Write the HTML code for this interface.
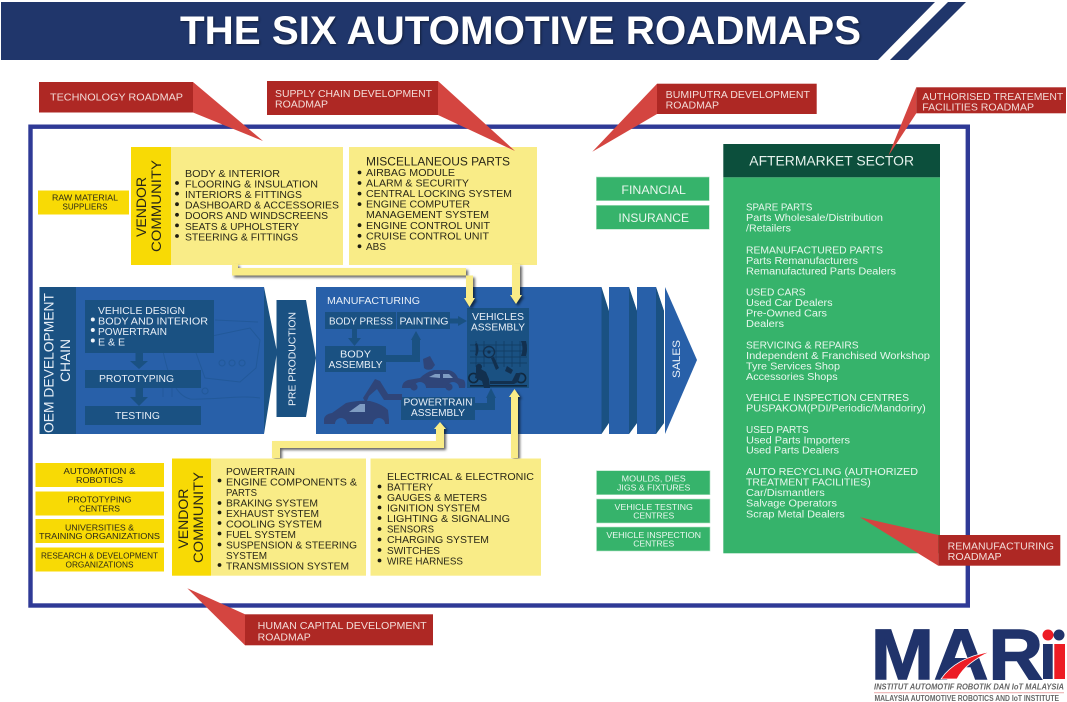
<!DOCTYPE html>
<html><head><meta charset="utf-8"><style>
html,body{margin:0;padding:0;background:#fff;width:1067px;height:702px;overflow:hidden}
svg{display:block;font-family:"Liberation Sans",sans-serif}
text{font-size:10px}
.w text,text.w{fill:#e8eff7}
.y text{fill:#2a2818}
.g text{fill:#e9f7ee}
.m text{text-anchor:middle;font-size:8.6px}
.r text{fill:#f3dcd8;font-size:10px}
.d{fill:#1a5182}
.b{fill:#2860a9}
.tail{fill:#d44540}
.tag{fill:#ae2824}
.gb{fill:#36b36b;stroke:#b4e3c5;stroke-width:.6}
.yb{fill:#f8da05}
.yl{fill:#f9ec87}
.c{text-anchor:middle}
</style></head><body>
<svg width="1067" height="702" viewBox="0 0 1067 702" xmlns="http://www.w3.org/2000/svg">
<!-- banner -->
<polygon points="1,2 935,2 878,60 1,60" fill="#20366b"/>
<polygon points="948,2 966,2 908,60 890,60" fill="#20366b"/>
<text x="180" y="44" textLength="681" lengthAdjust="spacingAndGlyphs" style="font-size:40px;font-weight:bold;fill:#fff;filter:drop-shadow(1px 1px 1px rgba(0,0,0,.45))">THE SIX AUTOMOTIVE ROADMAPS</text>

<!-- frame -->
<rect x="30.5" y="126.7" width="937.3" height="478.8" fill="none" stroke="#2f3a96" stroke-width="4.4"/>

<!-- top yellow -->
<rect x="131" y="147" width="40" height="118" class="yb"/>
<rect x="171" y="147" width="172" height="118" class="yl"/>
<rect x="349" y="147" width="188" height="118" class="yl"/>
<rect x="38" y="190.5" width="91" height="24" class="yb"/>
<g class="m y"><text x="85" y="200.7" textLength="66" lengthAdjust="spacingAndGlyphs">RAW MATERIAL</text><text x="85" y="209.7" textLength="45" lengthAdjust="spacingAndGlyphs">SUPPLIERS</text></g>
<g class="y">
<text transform="translate(146,237) rotate(-90)" textLength="60" lengthAdjust="spacingAndGlyphs" style="font-size:14px">VENDOR</text>
<text transform="translate(161,252) rotate(-90)" textLength="92" lengthAdjust="spacingAndGlyphs" style="font-size:14px">COMMUNITY</text>
<text x="185" y="177" textLength="95" lengthAdjust="spacingAndGlyphs">BODY &amp; INTERIOR</text>
<text x="185" y="187.6" textLength="133" lengthAdjust="spacingAndGlyphs">FLOORING &amp; INSULATION</text>
<text x="185" y="198.1" textLength="117" lengthAdjust="spacingAndGlyphs">INTERIORS &amp; FITTINGS</text>
<text x="185" y="208.7" textLength="154" lengthAdjust="spacingAndGlyphs">DASHBOARD &amp; ACCESSORIES</text>
<text x="185" y="219.2" textLength="143" lengthAdjust="spacingAndGlyphs">DOORS AND WINDSCREENS</text>
<text x="185" y="229.8" textLength="114" lengthAdjust="spacingAndGlyphs">SEATS &amp; UPHOLSTERY</text>
<text x="185" y="240.4" textLength="113" lengthAdjust="spacingAndGlyphs">STEERING &amp; FITTINGS</text>
<text x="366" y="165.5" textLength="144" lengthAdjust="spacingAndGlyphs" style="font-size:12px">MISCELLANEOUS PARTS</text>
<text x="366" y="176" textLength="89" lengthAdjust="spacingAndGlyphs">AIRBAG MODULE</text>
<text x="366" y="186.6" textLength="103" lengthAdjust="spacingAndGlyphs">ALARM &amp; SECURITY</text>
<text x="366" y="197.1" textLength="146" lengthAdjust="spacingAndGlyphs">CENTRAL LOCKING SYSTEM</text>
<text x="366" y="207.7" textLength="104" lengthAdjust="spacingAndGlyphs">ENGINE COMPUTER</text>
<text x="366" y="218.2" textLength="123" lengthAdjust="spacingAndGlyphs">MANAGEMENT SYSTEM</text>
<text x="366" y="228.8" textLength="124" lengthAdjust="spacingAndGlyphs">ENGINE CONTROL UNIT</text>
<text x="366" y="239.3" textLength="123" lengthAdjust="spacingAndGlyphs">CRUISE CONTROL UNIT</text>
<text x="366" y="249.9" textLength="20" lengthAdjust="spacingAndGlyphs">ABS</text>
</g>
<g fill="#1d1c10">
<circle cx="177" cy="183" r="1.9"/><circle cx="177" cy="193.6" r="1.9"/><circle cx="177" cy="204.2" r="1.9"/><circle cx="177" cy="214.8" r="1.9"/><circle cx="177" cy="225.4" r="1.9"/><circle cx="177" cy="236" r="1.9"/>
<circle cx="359.5" cy="172.5" r="1.9"/><circle cx="359.5" cy="183" r="1.9"/><circle cx="359.5" cy="193.6" r="1.9"/><circle cx="359.5" cy="204.1" r="1.9"/><circle cx="359.5" cy="225.2" r="1.9"/><circle cx="359.5" cy="235.8" r="1.9"/><circle cx="359.5" cy="246.3" r="1.9"/>
</g>

<!-- blue chain -->
<rect x="39.5" y="287" width="224.5" height="147" class="b"/>
<rect x="39.5" y="287" width="36.5" height="147" class="d"/>
<polygon points="264,287 277,352 264,434" class="d"/>
<g fill="none" stroke="#22599a" stroke-width="1">
<path d="M163,351 C168,375 175,395 190,399 C215,400 240,395 260,398"/>
<path d="M215,320 L258,322 M212,336 L250,328 L260,340 L256,368 L240,382 L205,378 L195,350"/>
<path d="M232,360 a3,3 0 1 0 .1,0 M242,360 a3,3 0 1 0 .1,0 M222,360 a3,3 0 1 0 .1,0"/>
<path d="M163,385 v12 M172,385 v12 M205,388 a3,3 0 1 0 .1,0"/>
</g>
<rect x="85" y="300" width="129" height="53" class="d"/>
<rect x="85" y="370" width="116" height="18" class="d"/>
<rect x="85" y="406" width="116" height="19" class="d"/>
<polygon points="135.5,353 143,353 143,361 148,361 139,369 130,361 135.5,361" class="d"/>
<polygon points="135.5,388 143,388 143,397 148,397 139,406 130,397 135.5,397" class="d"/>
<g class="w">
<text x="98" y="314" textLength="87" lengthAdjust="spacingAndGlyphs">VEHICLE DESIGN</text>
<text x="98" y="324.7" textLength="110" lengthAdjust="spacingAndGlyphs">BODY AND INTERIOR</text>
<text x="98" y="335" textLength="69" lengthAdjust="spacingAndGlyphs">POWERTRAIN</text>
<text x="98" y="345.6" textLength="27" lengthAdjust="spacingAndGlyphs">E &amp; E</text>
<text x="99" y="382" textLength="75" lengthAdjust="spacingAndGlyphs">PROTOTYPING</text>
<text x="115" y="419" textLength="45" lengthAdjust="spacingAndGlyphs">TESTING</text>
<text transform="translate(53.5,433) rotate(-90)" textLength="140" lengthAdjust="spacingAndGlyphs" style="font-size:14px">OEM DEVELOPMENT</text>
<text transform="translate(70,382) rotate(-90)" textLength="43" lengthAdjust="spacingAndGlyphs" style="font-size:14px">CHAIN</text>
</g>
<g fill="#f0f4f9"><circle cx="92.8" cy="319.5" r="2"/><circle cx="92.8" cy="330" r="2"/><circle cx="92.8" cy="340.5" r="2"/></g>

<polygon points="276.5,300 306,300 316,358 306,417 276.5,417" class="d"/>
<text transform="translate(295.5,406) rotate(-90)" textLength="94" lengthAdjust="spacingAndGlyphs" style="font-size:10.5px;fill:#e8eff7">PRE PRODUCTION</text>

<rect x="316" y="287" width="285.5" height="147" class="b"/>
<polygon points="601.5,287 609,311 609,423 601.5,434" class="d"/>
<polygon points="609,287 629,287 637,311 637,423 629,434 609,434" class="b"/>
<polygon points="629,287 637,311 637,423 629,434" class="d"/>
<polygon points="637,287 656,287 664,311 664,423 656,434 637,434" class="b"/>
<polygon points="656,287 664,311 664,423 656,434" class="d"/>
<polygon points="665,287 697,360 665,434" class="b"/>
<text transform="translate(680,378) rotate(-90)" textLength="38" lengthAdjust="spacingAndGlyphs" style="font-size:11px;fill:#e8eff7">SALES</text>

<rect x="325" y="312" width="71" height="17" class="d"/>
<rect x="397" y="312" width="53" height="17" class="d"/>
<rect x="325" y="346" width="61" height="26" class="d"/>
<polygon points="450,318.5 458,318.5 458,316 467,321 458,326 458,323.5 450,323.5" class="d"/>
<polygon points="352,329 357,329 357,338 361,338 354.5,346 348,338 352,338" class="d"/>
<polygon points="386,355 412,355 412,340 411,340 416,331 421,340 420,340 420,362 386,362" class="d"/>
<rect x="467" y="308" width="62" height="80" fill="#1a5182"/>
<rect x="401" y="397" width="74" height="23" class="d"/>
<polygon points="475,403 487,403 487,398 486,398 491,388 496,398 495,398 495,410 475,410" class="d"/>

<!-- vehicles assembly illustration -->
<g stroke="#123a5f" fill="none" stroke-width=".7">
<path d="M470,345 H527 M470,351 H527 M470,357 H527 M470,363 H527 M476,341 V367 M484,341 V367 M496,341 V367 M504,341 V367 M512,341 V367 M520,341 V367"/>
</g>
<g fill="#12304f">
<circle cx="489" cy="352" r="5.5" fill="none" stroke="#12304f" stroke-width="1.4"/><circle cx="489" cy="352" r="1.6"/>
<path d="M477,343 q3,6 0,13 l-2,-1 q2,-5 0,-11z"/>
<path d="M521,341 h5 q2,8 0,15 h-5 q3,-8 0,-15z"/>
<rect x="470" y="385" width="57" height="1.6" fill="#10283f"/>
<circle cx="473.5" cy="378" r="4.6" fill="none" stroke="#10283f" stroke-width="1.6"/>
<circle cx="521" cy="378" r="4.6" fill="none" stroke="#10283f" stroke-width="1.6"/>
<path d="M476,367 a3,3 0 1 1 5,2 l5,3 l3,7 l1,9 h-6 l-2,-7 l-7,-3 l1,-6z"/>
<path d="M491,358 l3,-1 l5,11 l-3,2z"/>
<path d="M490,381 h22 l4,-8 h5 l-3,9 l-4,2 h-24z M507,366 l6,4 l-2,4 l-6,-3z"/>
</g>

<!-- mfg illustrations -->
<g fill="#2f4579">
<path d="M402,388 q0,-6 6,-8 l12,-2 q6,-6 14,-8 h14 q7,1 10,8 l6,2 q2,3 1,8 h-6 a6,6 0 0 0 -12,0 h-21 a6,6 0 0 0 -12,0 z"/>
<circle cx="414" cy="387" r="3.6"/><circle cx="449" cy="387" r="3.6"/>
<path d="M423,359 l7,-3 l5,9 l-3,4 q-5,2 -8,-1 z"/>
<path d="M324,424 v-5 q1,-5 8,-6 l14,-10 q12,-3 24,-2 q12,3 18,9 l1,10 v4 h-4 a6,6 0 0 0 -12,0 h-26 a6,6 0 0 0 -12,0 z"/>
<polygon points="402,394 402,400 384,400 377,389 369,396 366,403 363,398 375,379 380,381 388,394"/>
</g>
<g fill="#7f9cc2"><path d="M429,377 l6,-3 h5 v4 z M443,374 h6 l4,4 h-10z"/><path d="M349,412 l11,-8 h5 v8z"/></g>

<g class="w">
<text x="327" y="304" textLength="93" lengthAdjust="spacingAndGlyphs">MANUFACTURING</text>
<text x="329" y="324.5" textLength="64" lengthAdjust="spacingAndGlyphs">BODY PRESS</text>
<text x="399.5" y="324.5" textLength="49" lengthAdjust="spacingAndGlyphs">PAINTING</text>
<text x="355.5" y="357.5" class="c" textLength="31" lengthAdjust="spacingAndGlyphs">BODY</text>
<text x="355.5" y="368" class="c" textLength="54" lengthAdjust="spacingAndGlyphs">ASSEMBLY</text>
<text x="498" y="320" class="c" textLength="52" lengthAdjust="spacingAndGlyphs">VEHICLES</text>
<text x="498" y="330.7" class="c" textLength="54" lengthAdjust="spacingAndGlyphs">ASSEMBLY</text>
<text x="438" y="405.5" class="c" textLength="69" lengthAdjust="spacingAndGlyphs">POWERTRAIN</text>
<text x="438" y="416" class="c" textLength="54" lengthAdjust="spacingAndGlyphs">ASSEMBLY</text>
</g>

<!-- yellow connectors -->
<g style="filter:drop-shadow(2px 2px 1.2px rgba(0,0,0,.6))">
<polygon points="232,264 238,264 238,268 466,268 466,298 464,298 469.5,307 475,298 473,298 473,275.5 232,275.5" class="yl"/>
<polygon points="512,264 520,264 520,295 522,295 516,304 510,295 512,295" class="yl"/>
<polygon points="511,458 518,458 518,397 520,397 514.5,389 509,397 511,397" class="yl"/>
<polygon points="272,458 280,458 280,448 444,448 444,429 446,429 440,422 434,429 436,429 436,441 272,441" class="yl"/>
</g>

<!-- bottom yellow -->
<rect x="172" y="458.5" width="39" height="117.2" class="yb"/>
<rect x="211" y="458.5" width="155" height="117.2" class="yl"/>
<rect x="370.5" y="458.5" width="170.5" height="117.2" class="yl"/>
<rect x="35.5" y="463" width="128.5" height="24" class="yb"/>
<rect x="35.5" y="491.5" width="128.5" height="24" class="yb"/>
<rect x="35.5" y="519" width="128.5" height="24" class="yb"/>
<rect x="35.5" y="547.5" width="128.5" height="24" class="yb"/>
<g class="m y">
<text x="99.5" y="474" textLength="72" lengthAdjust="spacingAndGlyphs">AUTOMATION &amp;</text><text x="99.5" y="483" textLength="47" lengthAdjust="spacingAndGlyphs">ROBOTICS</text>
<text x="99.5" y="502.5" textLength="64" lengthAdjust="spacingAndGlyphs">PROTOTYPING</text><text x="99.5" y="511.5" textLength="41" lengthAdjust="spacingAndGlyphs">CENTERS</text>
<text x="99.5" y="530.5" textLength="69" lengthAdjust="spacingAndGlyphs">UNIVERSITIES &amp;</text><text x="99.5" y="539" textLength="121" lengthAdjust="spacingAndGlyphs">TRAINING ORGANIZATIONS</text>
<text x="99.5" y="558.5" textLength="117" lengthAdjust="spacingAndGlyphs">RESEARCH &amp; DEVELOPMENT</text><text x="99.5" y="567.5" textLength="68" lengthAdjust="spacingAndGlyphs">ORGANIZATIONS</text>
</g>
<g class="y">
<text transform="translate(188,548.6) rotate(-90)" textLength="60" lengthAdjust="spacingAndGlyphs" style="font-size:14px">VENDOR</text>
<text transform="translate(203,563) rotate(-90)" textLength="91" lengthAdjust="spacingAndGlyphs" style="font-size:14px">COMMUNITY</text>
<text x="226" y="475" textLength="69" lengthAdjust="spacingAndGlyphs">POWERTRAIN</text>
<text x="226" y="485.5" textLength="131" lengthAdjust="spacingAndGlyphs">ENGINE COMPONENTS &amp;</text>
<text x="226" y="496" textLength="31" lengthAdjust="spacingAndGlyphs">PARTS</text>
<text x="226" y="506.5" textLength="92" lengthAdjust="spacingAndGlyphs">BRAKING SYSTEM</text>
<text x="226" y="517" textLength="93" lengthAdjust="spacingAndGlyphs">EXHAUST SYSTEM</text>
<text x="226" y="527.5" textLength="96" lengthAdjust="spacingAndGlyphs">COOLING SYSTEM</text>
<text x="226" y="538" textLength="70" lengthAdjust="spacingAndGlyphs">FUEL SYSTEM</text>
<text x="226" y="548.5" textLength="131" lengthAdjust="spacingAndGlyphs">SUSPENSION &amp; STEERING</text>
<text x="226" y="559" textLength="41" lengthAdjust="spacingAndGlyphs">SYSTEM</text>
<text x="226" y="569.7" textLength="123" lengthAdjust="spacingAndGlyphs">TRANSMISSION SYSTEM</text>
<text x="387" y="480" textLength="147" lengthAdjust="spacingAndGlyphs">ELECTRICAL &amp; ELECTRONIC</text>
<text x="387" y="490.5" textLength="46" lengthAdjust="spacingAndGlyphs">BATTERY</text>
<text x="387" y="501" textLength="100" lengthAdjust="spacingAndGlyphs">GAUGES &amp; METERS</text>
<text x="387" y="511.6" textLength="93" lengthAdjust="spacingAndGlyphs">IGNITION SYSTEM</text>
<text x="387" y="522.1" textLength="123" lengthAdjust="spacingAndGlyphs">LIGHTING &amp; SIGNALING</text>
<text x="387" y="532.7" textLength="47" lengthAdjust="spacingAndGlyphs">SENSORS</text>
<text x="387" y="543.2" textLength="102" lengthAdjust="spacingAndGlyphs">CHARGING SYSTEM</text>
<text x="387" y="553.8" textLength="53" lengthAdjust="spacingAndGlyphs">SWITCHES</text>
<text x="387" y="564.3" textLength="76" lengthAdjust="spacingAndGlyphs">WIRE HARNESS</text>
</g>
<g fill="#1d1c10">
<circle cx="219.5" cy="480.5" r="1.9"/><circle cx="219.5" cy="503" r="1.9"/><circle cx="219.5" cy="512.5" r="1.9"/><circle cx="219.5" cy="523" r="1.9"/><circle cx="219.5" cy="533.5" r="1.9"/><circle cx="219.5" cy="544.5" r="1.9"/><circle cx="219.5" cy="565" r="1.9"/>
<circle cx="379.5" cy="486.5" r="1.9"/><circle cx="379.5" cy="497" r="1.9"/><circle cx="379.5" cy="507.5" r="1.9"/><circle cx="379.5" cy="518" r="1.9"/><circle cx="379.5" cy="529" r="1.9"/><circle cx="379.5" cy="539.5" r="1.9"/><circle cx="379.5" cy="550" r="1.9"/><circle cx="379.5" cy="560.5" r="1.9"/>
</g>

<!-- green -->
<rect x="596.3" y="177" width="113" height="23.7" class="gb"/>
<rect x="596.3" y="205.3" width="113" height="24" class="gb"/>
<rect x="596.5" y="470.7" width="113.5" height="24" class="gb"/>
<rect x="596.5" y="499" width="113.5" height="24" class="gb"/>
<rect x="596.5" y="527" width="113.5" height="24" class="gb"/>
<g class="g">
<text x="653.7" y="194" class="c" textLength="64.5" lengthAdjust="spacingAndGlyphs" style="font-size:11.5px">FINANCIAL</text>
<text x="653.7" y="222" class="c" textLength="70.5" lengthAdjust="spacingAndGlyphs" style="font-size:11.5px">INSURANCE</text>
</g>
<g class="m g">
<text x="653.7" y="481.7" textLength="64" lengthAdjust="spacingAndGlyphs">MOULDS, DIES</text><text x="653.7" y="490.3" textLength="73.3" lengthAdjust="spacingAndGlyphs">JIGS &amp; FIXTURES</text>
<text x="653.7" y="510" textLength="78.3" lengthAdjust="spacingAndGlyphs">VEHICLE TESTING</text><text x="653.7" y="518.7" textLength="41" lengthAdjust="spacingAndGlyphs">CENTRES</text>
<text x="653.7" y="538" textLength="94.7" lengthAdjust="spacingAndGlyphs">VEHICLE INSPECTION</text><text x="653.7" y="546.7" textLength="41" lengthAdjust="spacingAndGlyphs">CENTRES</text>
</g>
<rect x="723.3" y="177.3" width="216.7" height="376" fill="#36b36b"/>
<rect x="723.3" y="144" width="216.7" height="33.3" fill="#0c4f3c"/>
<text x="749.3" y="165.7" textLength="164.7" lengthAdjust="spacingAndGlyphs" style="font-size:14px;fill:#e8f3ee">AFTERMARKET SECTOR</text>
<g class="g">
<text x="746" y="210.7" textLength="66.4" lengthAdjust="spacingAndGlyphs">SPARE PARTS</text>
<text x="746" y="221" textLength="137" lengthAdjust="spacingAndGlyphs">Parts Wholesale/Distribution</text>
<text x="746" y="231.7" textLength="45" lengthAdjust="spacingAndGlyphs">/Retailers</text>
<text x="746" y="253.3" textLength="137" lengthAdjust="spacingAndGlyphs">REMANUFACTURED PARTS</text>
<text x="746" y="264" textLength="112" lengthAdjust="spacingAndGlyphs">Parts Remanufacturers</text>
<text x="746" y="274.3" textLength="150" lengthAdjust="spacingAndGlyphs">Remanufactured Parts Dealers</text>
<text x="746" y="295.7" textLength="59.5" lengthAdjust="spacingAndGlyphs">USED CARS</text>
<text x="746" y="306" textLength="86.6" lengthAdjust="spacingAndGlyphs">Used Car Dealers</text>
<text x="746" y="316.7" textLength="81" lengthAdjust="spacingAndGlyphs">Pre-Owned Cars</text>
<text x="746" y="327" textLength="38" lengthAdjust="spacingAndGlyphs">Dealers</text>
<text x="746" y="348.3" textLength="112.5" lengthAdjust="spacingAndGlyphs">SERVICING &amp; REPAIRS</text>
<text x="746" y="359" textLength="184" lengthAdjust="spacingAndGlyphs">Independent &amp; Franchised Workshop</text>
<text x="746" y="369.7" textLength="94" lengthAdjust="spacingAndGlyphs">Tyre Services Shop</text>
<text x="746" y="380" textLength="91.7" lengthAdjust="spacingAndGlyphs">Accessories Shops</text>
<text x="746" y="401" textLength="163" lengthAdjust="spacingAndGlyphs">VEHICLE INSPECTION CENTRES</text>
<text x="746" y="411.7" textLength="179.7" lengthAdjust="spacingAndGlyphs">PUSPAKOM(PDI/Periodic/Mandoriry)</text>
<text x="746" y="433" textLength="62.7" lengthAdjust="spacingAndGlyphs">USED PARTS</text>
<text x="746" y="443.3" textLength="104" lengthAdjust="spacingAndGlyphs">Used Parts Importers</text>
<text x="746" y="453.7" textLength="93" lengthAdjust="spacingAndGlyphs">Used Parts Dealers</text>
<text x="746" y="475" textLength="172" lengthAdjust="spacingAndGlyphs">AUTO RECYCLING (AUTHORIZED</text>
<text x="746" y="485.7" textLength="124.7" lengthAdjust="spacingAndGlyphs">TREATMENT FACILITIES)</text>
<text x="746" y="496" textLength="78.7" lengthAdjust="spacingAndGlyphs">Car/Dismantlers</text>
<text x="746" y="506.7" textLength="91" lengthAdjust="spacingAndGlyphs">Salvage Operators</text>
<text x="746" y="517.3" textLength="98.7" lengthAdjust="spacingAndGlyphs">Scrap Metal Dealers</text>
</g>

<!-- red tags -->
<polygon points="193,82 263,141 193,112.5" class="tail"/>
<rect x="39" y="82" width="154" height="30.5" class="tag"/>
<polygon points="438,81 515,151 438,115" class="tail"/>
<rect x="267" y="81" width="171" height="34" class="tag"/>
<polygon points="657,83.7 592.3,151.7 657,114" class="tail"/>
<rect x="657" y="83.7" width="159.7" height="30.3" class="tag"/>
<polygon points="916.3,87.3 888.3,156 916.3,113.3" class="tail"/>
<rect x="916.3" y="87.3" width="149.7" height="26" class="tag"/>
<polygon points="860,517.3 938.3,535 938.3,565.7" class="tail"/>
<rect x="938.3" y="535" width="122" height="30.7" class="tag"/>
<polygon points="245,614.3 187.3,588.3 245,645.3" class="tail"/>
<rect x="245" y="614.3" width="188" height="31" class="tag"/>
<g class="r">
<text x="50" y="100.5" textLength="133" lengthAdjust="spacingAndGlyphs">TECHNOLOGY ROADMAP</text>
<text x="275" y="97" textLength="157" lengthAdjust="spacingAndGlyphs">SUPPLY CHAIN DEVELOPMENT</text>
<text x="275" y="107.5" textLength="53" lengthAdjust="spacingAndGlyphs">ROADMAP</text>
<text x="665.7" y="98" textLength="144.3" lengthAdjust="spacingAndGlyphs">BUMIPUTRA DEVELOPMENT</text>
<text x="665.7" y="108.7" textLength="53.3" lengthAdjust="spacingAndGlyphs">ROADMAP</text>
<text x="922.3" y="100" textLength="141" lengthAdjust="spacingAndGlyphs">AUTHORISED TREATEMENT</text>
<text x="922.3" y="110.3" textLength="111.7" lengthAdjust="spacingAndGlyphs">FACILITIES ROADMAP</text>
<text x="947.7" y="549.3" textLength="106.3" lengthAdjust="spacingAndGlyphs">REMANUFACTURING</text>
<text x="947.7" y="560" textLength="54" lengthAdjust="spacingAndGlyphs">ROADMAP</text>
<text x="257.7" y="629" textLength="169" lengthAdjust="spacingAndGlyphs">HUMAN CAPITAL DEVELOPMENT</text>
<text x="257.7" y="640.3" textLength="53" lengthAdjust="spacingAndGlyphs">ROADMAP</text>
</g>

<!-- logo -->
<text x="871" y="679" textLength="172" lengthAdjust="spacingAndGlyphs" stroke="#20336b" stroke-width="1.4" style="font-size:71px;font-weight:bold;fill:#20336b">MAR</text>
<path d="M941,679 Q955,658 991,651.5 Q966,662 957,679 Z" fill="#ed1c24" stroke="#fff" stroke-width=".8"/>
<rect x="1043" y="644" width="9.7" height="35" fill="#20336b"/>
<rect x="1054.3" y="644" width="10.7" height="35" fill="#ed1c24"/>
<circle cx="1048" cy="635" r="5.5" fill="#ed1c24"/>
<circle cx="1059" cy="635" r="5.5" fill="#20336b"/>
<text x="874" y="689.3" textLength="190" lengthAdjust="spacingAndGlyphs" style="font-size:8.5px;font-weight:bold;font-style:italic;fill:#666">INSTITUT AUTOMOTIF ROBOTIK DAN IoT MALAYSIA</text>
<rect x="874" y="692.3" width="190" height=".9" fill="#e9a0a0"/>
<text x="874.5" y="701" textLength="184.5" lengthAdjust="spacingAndGlyphs" style="font-size:7.8px;font-weight:bold;fill:#666">MALAYSIA AUTOMOTIVE ROBOTICS AND IoT INSTITUTE</text>
</svg>
</body></html>
